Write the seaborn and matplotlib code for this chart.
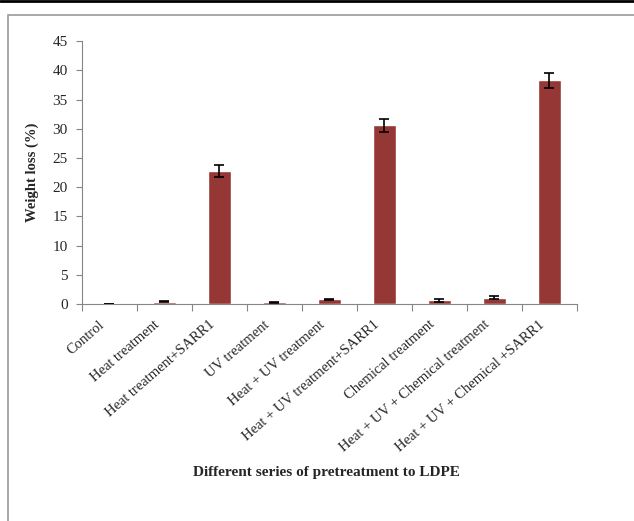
import pandas as pd
import matplotlib
matplotlib.use("Agg")
import matplotlib.pyplot as plt
import matplotlib.transforms as mtransforms
import seaborn as sns
from matplotlib.lines import Line2D
from matplotlib.patches import Rectangle

# ---- Data ----
categories = ["Control", "Heat treatment", "Heat treatment+SARR1", "UV treatment",
              "Heat + UV treatment", "Heat + UV treatment+SARR1", "Chemical treatment",
              "Heat + UV + Chemical treatment", "Heat + UV + Chemical +SARR1"]
weight_loss = [0.0, 0.4, 22.8, 0.3, 0.8, 30.6, 0.6, 1.1, 38.3]
errors = [0.0, 0.1, 1.0, 0.1, 0.1, 1.1, 0.25, 0.3, 1.3]

df = pd.DataFrame({"treatment": categories, "loss": weight_loss})

sns.set_style("white")
plt.rcParams["font.family"] = ["Liberation Serif", "DejaVu Serif"]

fig = plt.figure(figsize=(6.34, 5.21), dpi=100)
ax = fig.add_axes([0.129, 0.4165, 0.781, 0.5045])

sns.barplot(data=df, x="treatment", y="loss", order=categories, color="#953735",
            saturation=1, width=0.42, errorbar=None, ax=ax)
ax.errorbar(range(len(categories)), weight_loss, yerr=errors, fmt="none",
            ecolor="black", elinewidth=1.2, capsize=3.5, capthick=1.2)

ax.set_ylim(0, 45)
ax.set_xlim(-0.5, len(categories) - 0.5)
ax.set_yticks(range(0, 46, 5))
ax.tick_params(axis="y", labelsize=11, length=4, width=0.8, color="#868686",
               direction="out", left=True, pad=6)
ax.set_xticks(range(len(categories)))
ax.set_xticklabels(categories, rotation=41, ha="right", va="top",
                   rotation_mode="anchor", fontsize=10.5)
ax.tick_params(axis="x", which="major", length=0, pad=10)
ax.set_xticks([i - 0.5 for i in range(len(categories) + 1)], minor=True)
ax.tick_params(axis="x", which="minor", length=5, width=0.8, color="#868686",
               direction="out", bottom=True)

# nudge the rotated labels a little to the left, like the original
shift = mtransforms.ScaledTranslation(-11 / 100, 0, fig.dpi_scale_trans)
for lab in ax.get_xticklabels():
    lab.set_transform(lab.get_transform() + shift)

for s in ["top", "right"]:
    ax.spines[s].set_visible(False)
for s in ["left", "bottom"]:
    ax.spines[s].set_color("#868686")
    ax.spines[s].set_linewidth(0.8)

ax.set_ylabel("Weight loss (%)", fontsize=10.5, fontweight="bold", labelpad=10)
ax.set_xlabel("")
fig.text(0.515, 0.094, "Different series of pretreatment to LDPE", ha="center",
         va="center", fontsize=11, fontweight="bold")

# page decoration: black rule on top, grey frame around the chart
fig.add_artist(Line2D([0, 1], [0.998, 0.998], color="black", lw=2))
fig.add_artist(Rectangle((0.0126, -0.05), 1.1, 1.0212, fill=False,
                         edgecolor="#9a9a9a", lw=1.2))

fig.savefig("out.png", dpi=100)
